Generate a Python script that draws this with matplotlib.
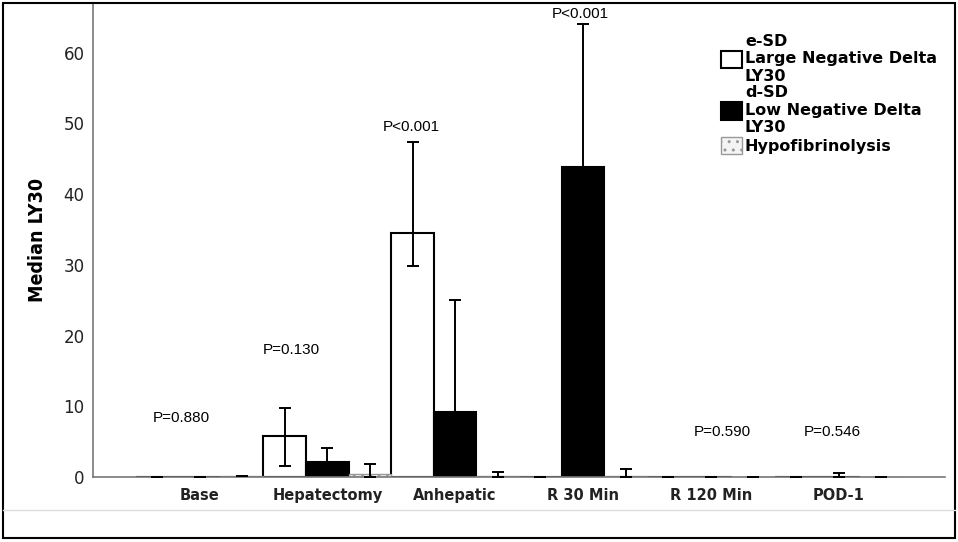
import matplotlib
matplotlib.use("Agg")
import matplotlib.pyplot as plt
from matplotlib.patches import Rectangle
from matplotlib.lines import Line2D
import numpy as np

# categories and series (median LY30 with error bar limits)
categories = ["Base", "Hepatectomy", "Anhepatic", "R 30 Min", "R 120 Min", "POD-1"]
series_names = ["e-SD\nLarge Negative Delta\nLY30", "d-SD\nLow Negative Delta\nLY30", "Hypofibrinolysis"]

esd_vals = [0.0, 5.8, 34.5, 0.0, 0.0, 0.0]
esd_low = [0.0, 1.5, 29.8, 0.0, 0.0, 0.0]
esd_high = [0.0, 9.8, 47.3, 0.0, 0.0, 0.0]

dsd_vals = [0.0, 2.1, 9.2, 43.8, 0.0, 0.0]
dsd_low = [0.0, 2.1, 9.2, 43.8, 0.0, 0.0]
dsd_high = [0.0, 4.1, 25.0, 64.0, 0.0, 0.5]

hypo_vals = [0.1, 0.4, 0.1, 0.1, 0.0, 0.0]
hypo_low = [0.1, 0.0, 0.0, 0.0, 0.0, 0.0]
hypo_high = [0.1, 1.8, 0.7, 1.1, 0.0, 0.0]

p_labels = ["P=0.880", "P=0.130", "P<0.001", "P<0.001", "P=0.590", "P=0.546"]
y_ticks = [0, 10, 20, 30, 40, 50, 60]

fig = plt.figure(figsize=(9.58, 5.42), dpi=100)
ax = fig.add_axes([93 / 958, 65 / 542, 852 / 958, 474 / 542])

x = np.arange(len(categories))
w = 1 / 3
styles = [
    dict(facecolor="white", edgecolor="black", linewidth=1.5),
    dict(facecolor="black", edgecolor="black", linewidth=1.5),
    dict(facecolor="#f4f4f4", edgecolor="#999999", linewidth=1.0, hatch=".."),
]
data = [(esd_vals, esd_low, esd_high), (dsd_vals, dsd_low, dsd_high), (hypo_vals, hypo_low, hypo_high)]

handles = []
for i, ((vals, lo, hi), st) in enumerate(zip(data, styles)):
    pos = x + (i - 1) * w
    vals = np.array(vals)
    b = ax.bar(pos, vals, width=w, zorder=2, **st)
    handles.append(b)
    yerr = np.vstack([vals - np.array(lo), np.array(hi) - vals])
    ax.errorbar(pos, vals, yerr=yerr, fmt="none", ecolor="black",
                elinewidth=1.4, capsize=4.2, capthick=1.4, zorder=3)

# p-value annotations
p_pos = [(-0.14, 8.3), (0.72, 18.0), (1.66, 49.5), (2.98, 65.5), (4.09, 6.4), (4.95, 6.4)]
for txt, (px, py) in zip(p_labels, p_pos):
    ax.text(px, py, txt, ha="center", va="center", fontsize=11,
            family="Liberation Sans", color="black")

ax.set_xlim(-0.5 - w, len(categories) - 0.5 + w)
ax.set_ylim(0, 67)
ax.set_yticks(y_ticks)
ax.set_xticks(x)
ax.set_xticklabels(categories, fontsize=10.5, fontweight="bold", color="#222222")
ax.tick_params(axis="y", length=0, pad=6, labelsize=12, labelcolor="#222222")
ax.tick_params(axis="x", length=0, pad=8)
for s in ["top", "right"]:
    ax.spines[s].set_visible(False)
for s in ["left", "bottom"]:
    ax.spines[s].set_color("#777777")
    ax.spines[s].set_linewidth(1.2)
ax.set_ylabel("Median LY30", fontsize=14, fontweight="bold", fontstretch="condensed",
              labelpad=12)

leg = ax.legend(handles, series_names, loc="upper left",
                bbox_to_anchor=(713 / 958, 1 - 26 / 542), bbox_transform=fig.transFigure,
                frameon=False, handlelength=1.3, handleheight=1.3, handletextpad=0.2,
                labelspacing=0.1, borderpad=0,
                prop=dict(size=11.5, weight="bold"))

# outer border and gray separator
fig.add_artist(Rectangle((3 / 958, 4 / 542), 952 / 958, 535 / 542, transform=fig.transFigure,
                         fill=False, edgecolor="black", linewidth=1.5))
fig.add_artist(Line2D([3 / 958, 955 / 958], [1 - 510 / 542, 1 - 510 / 542],
                      transform=fig.transFigure, color="#dddddd", linewidth=1))

fig.savefig("out.png", dpi=100)
